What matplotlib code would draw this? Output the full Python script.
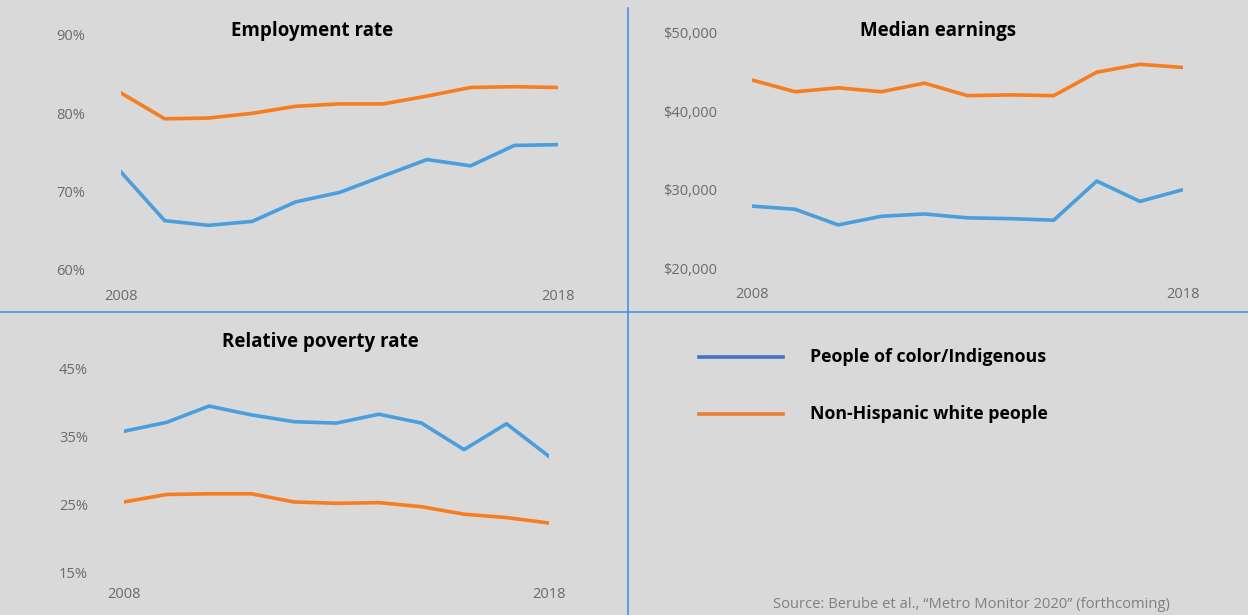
import matplotlib.pyplot as plt
from matplotlib.ticker import FuncFormatter

plt.rcParams['font.family'] = ['Open Sans', 'DejaVu Sans']

years = list(range(2008, 2019))

employment_poc = [72.5, 66.3, 65.7, 66.2, 68.7, 69.9, 72.0, 74.1, 73.3, 75.9, 76.0]
employment_white = [82.6, 79.3, 79.4, 80.0, 80.9, 81.2, 81.2, 82.2, 83.3, 83.4, 83.3]

earnings_poc = [27900, 27500, 25500, 26600, 26900, 26400, 26300, 26100, 31100, 28500, 30000]
earnings_white = [44000, 42500, 43000, 42500, 43600, 42000, 42100, 42000, 45000, 46000, 45600]

poverty_poc = [35.7, 37.0, 39.4, 38.1, 37.1, 36.9, 38.2, 36.9, 33.0, 36.8, 32.0]
poverty_white = [25.3, 26.4, 26.5, 26.5, 25.3, 25.1, 25.2, 24.6, 23.5, 23.0, 22.2]

series_names = ['People of color/Indigenous', 'Non-Hispanic white people']

BLUE = '#4a9ede'
ORANGE = '#f57d22'
BG = '#d9d9d9'
GRID = '#3a8ee0'
TICK = '#6b6b6b'

W, H = 1248, 615
fig = plt.figure(figsize=(W / 100, H / 100), dpi=100)
fig.patch.set_facecolor(BG)


def px_axes(x0, y0, x1, y1):
    # axes placed by pixel box (top-left origin)
    return fig.add_axes([x0 / W, 1 - y1 / H, (x1 - x0) / W, (y1 - y0) / H])


def style(ax, title, ylim, yticks, fmt, title_y, title_x, ypad, xpad):
    ax.set_facecolor('none')
    for s in ax.spines.values():
        s.set_visible(False)
    ax.set_xlim(2008, 2018)
    ax.set_ylim(*ylim)
    ax.set_yticks(yticks)
    ax.yaxis.set_major_formatter(FuncFormatter(fmt))
    ax.set_xticks([2008, 2018])
    ax.tick_params(length=0, colors=TICK, labelsize=10.5)
    ax.tick_params(axis='y', pad=ypad)
    ax.tick_params(axis='x', pad=xpad)
    fig.text(title_x / W, 1 - title_y / H, title, ha='center', va='center',
             fontsize=13.5, fontweight='bold', color='black')


pct = lambda v, p: f'{v:.0f}%'
dollars = lambda v, p: f'${v:,.0f}'

ax1 = px_axes(121, 35, 558, 270)
ax1.plot(years, employment_poc, color=BLUE, lw=2.6, solid_joinstyle='round')
ax1.plot(years, employment_white, color=ORANGE, lw=2.6, solid_joinstyle='round')
style(ax1, 'Employment rate', (60, 90), [60, 70, 80, 90], pct, 31, 312, 26, 14)

ax2 = px_axes(752, 33, 1183, 268)
ax2.plot(years, earnings_poc, color=BLUE, lw=2.6, solid_joinstyle='round')
ax2.plot(years, earnings_white, color=ORANGE, lw=2.6, solid_joinstyle='round')
style(ax2, 'Median earnings', (20000, 50000), [20000, 30000, 40000, 50000], dollars, 31, 938, 25, 14)

ax3 = px_axes(124, 368, 549, 572)
ax3.plot(years, poverty_poc, color=BLUE, lw=2.6, solid_joinstyle='round')
ax3.plot(years, poverty_white, color=ORANGE, lw=2.6, solid_joinstyle='round')
style(ax3, 'Relative poverty rate', (15, 45), [15, 25, 35, 45], pct, 342, 320, 26, 11)

# panel dividers
fig.add_artist(plt.Line2D([0, 1], [1 - 311.5 / H, 1 - 311.5 / H], color=GRID, lw=1.1))
fig.add_artist(plt.Line2D([627.5 / W, 627.5 / W], [0, 1 - 8 / H], color=GRID, lw=1.1))

# legend
legend_colors = ['#4472c4', '#ed7d31']
legend_y = [357, 414]
for name, c, y in zip(series_names, legend_colors, legend_y):
    fig.add_artist(plt.Line2D([699 / W, 783 / W], [1 - y / H, 1 - y / H], color=c, lw=2.6))
    fig.text(810 / W, 1 - y / H, name, ha='left', va='center', fontsize=12.8,
             fontweight='bold', color='black')

fig.text(1170 / W, 1 - 604 / H, 'Source: Berube et al., \u201cMetro Monitor 2020\u201d (forthcoming)',
         ha='right', va='center', fontsize=10.6, color='#7f7f7f')

fig.savefig('out.png', dpi=100, facecolor=BG)
